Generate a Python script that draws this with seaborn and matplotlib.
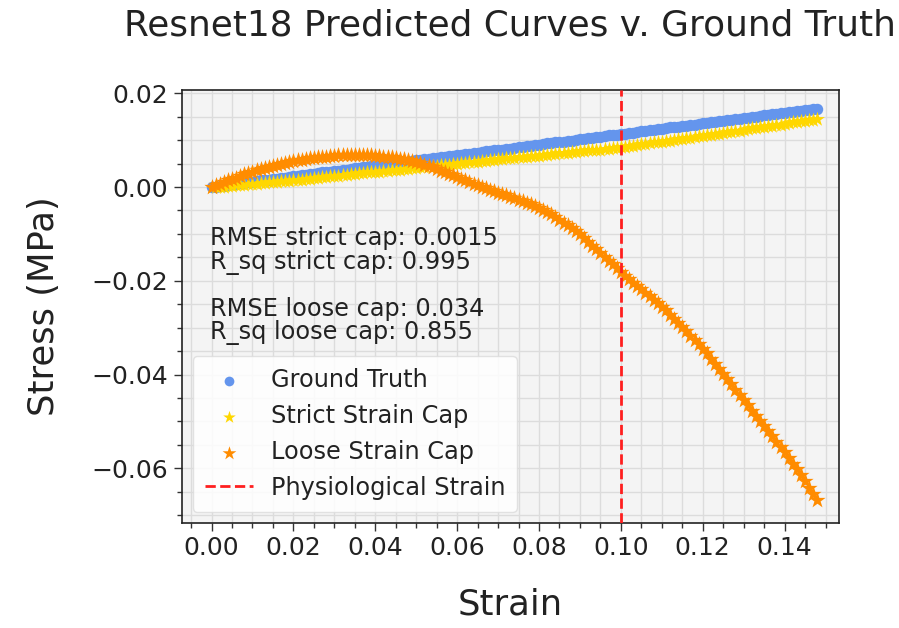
import matplotlib
matplotlib.use("Agg")
import matplotlib.pyplot as plt
import seaborn as sns
import pandas as pd
from matplotlib.ticker import MultipleLocator

# ---- data ----
strain = [0.000, 0.001, 0.002, 0.003, 0.004, 0.005, 0.006, 0.007, 0.008, 0.009,
          0.010, 0.011, 0.012, 0.013, 0.014, 0.015, 0.016, 0.017, 0.018, 0.019,
          0.020, 0.021, 0.022, 0.023, 0.024, 0.025, 0.026, 0.027, 0.028, 0.029,
          0.030, 0.031, 0.032, 0.033, 0.034, 0.035, 0.036, 0.037, 0.038, 0.039,
          0.040, 0.041, 0.042, 0.043, 0.044, 0.045, 0.046, 0.047, 0.048, 0.049,
          0.050, 0.051, 0.052, 0.053, 0.054, 0.055, 0.056, 0.057, 0.058, 0.059,
          0.060, 0.061, 0.062, 0.063, 0.064, 0.065, 0.066, 0.067, 0.068, 0.069,
          0.070, 0.071, 0.072, 0.073, 0.074, 0.075, 0.076, 0.077, 0.078, 0.079,
          0.080, 0.081, 0.082, 0.083, 0.084, 0.085, 0.086, 0.087, 0.088, 0.089,
          0.090, 0.091, 0.092, 0.093, 0.094, 0.095, 0.096, 0.097, 0.098, 0.099,
          0.100, 0.101, 0.102, 0.103, 0.104, 0.105, 0.106, 0.107, 0.108, 0.109,
          0.110, 0.111, 0.112, 0.113, 0.114, 0.115, 0.116, 0.117, 0.118, 0.119,
          0.120, 0.121, 0.122, 0.123, 0.124, 0.125, 0.126, 0.127, 0.128, 0.129,
          0.130, 0.131, 0.132, 0.133, 0.134, 0.135, 0.136, 0.137, 0.138, 0.139,
          0.140, 0.141, 0.142, 0.143, 0.144, 0.145, 0.146, 0.147, 0.148]

ground_truth = [0.0000, 0.0001, 0.0002, 0.0003, 0.0005, 0.0006, 0.0007, 0.0008, 0.0009, 0.0010,
                0.0011, 0.0012, 0.0014, 0.0015, 0.0016, 0.0017, 0.0018, 0.0019, 0.0020, 0.0021,
                0.0023, 0.0024, 0.0025, 0.0026, 0.0027, 0.0028, 0.0029, 0.0031, 0.0032, 0.0033,
                0.0034, 0.0035, 0.0036, 0.0037, 0.0038, 0.0040, 0.0041, 0.0042, 0.0043, 0.0044,
                0.0045, 0.0046, 0.0047, 0.0049, 0.0050, 0.0051, 0.0052, 0.0053, 0.0054, 0.0055,
                0.0057, 0.0058, 0.0059, 0.0060, 0.0061, 0.0062, 0.0063, 0.0064, 0.0066, 0.0067,
                0.0068, 0.0069, 0.0070, 0.0071, 0.0072, 0.0073, 0.0075, 0.0076, 0.0077, 0.0078,
                0.0079, 0.0080, 0.0081, 0.0082, 0.0084, 0.0085, 0.0086, 0.0087, 0.0088, 0.0089,
                0.0090, 0.0092, 0.0093, 0.0094, 0.0095, 0.0096, 0.0097, 0.0098, 0.0099, 0.0101,
                0.0102, 0.0103, 0.0104, 0.0105, 0.0106, 0.0107, 0.0108, 0.0110, 0.0111, 0.0112,
                0.0113, 0.0114, 0.0115, 0.0116, 0.0118, 0.0119, 0.0120, 0.0121, 0.0122, 0.0123,
                0.0124, 0.0125, 0.0127, 0.0128, 0.0129, 0.0130, 0.0131, 0.0132, 0.0133, 0.0134,
                0.0136, 0.0137, 0.0138, 0.0139, 0.0140, 0.0141, 0.0142, 0.0144, 0.0145, 0.0146,
                0.0147, 0.0148, 0.0149, 0.0150, 0.0151, 0.0153, 0.0154, 0.0155, 0.0156, 0.0157,
                0.0158, 0.0159, 0.0160, 0.0162, 0.0163, 0.0164, 0.0165, 0.0166, 0.0167]

strict_cap = [0.0000, 0.0000, 0.0001, 0.0001, 0.0002, 0.0003, 0.0004, 0.0004, 0.0005, 0.0006,
              0.0007, 0.0007, 0.0008, 0.0009, 0.0010, 0.0010, 0.0011, 0.0012, 0.0013, 0.0013,
              0.0014, 0.0015, 0.0016, 0.0017, 0.0018, 0.0019, 0.0020, 0.0021, 0.0022, 0.0023,
              0.0024, 0.0024, 0.0025, 0.0026, 0.0027, 0.0028, 0.0029, 0.0030, 0.0031, 0.0031,
              0.0032, 0.0033, 0.0034, 0.0035, 0.0036, 0.0036, 0.0037, 0.0038, 0.0039, 0.0040,
              0.0041, 0.0042, 0.0043, 0.0044, 0.0045, 0.0045, 0.0046, 0.0047, 0.0048, 0.0049,
              0.0050, 0.0051, 0.0052, 0.0053, 0.0054, 0.0054, 0.0055, 0.0056, 0.0057, 0.0058,
              0.0059, 0.0060, 0.0061, 0.0061, 0.0062, 0.0063, 0.0064, 0.0065, 0.0066, 0.0066,
              0.0067, 0.0068, 0.0069, 0.0070, 0.0071, 0.0072, 0.0073, 0.0073, 0.0074, 0.0075,
              0.0076, 0.0077, 0.0078, 0.0079, 0.0080, 0.0080, 0.0081, 0.0082, 0.0083, 0.0084,
              0.0085, 0.0086, 0.0087, 0.0088, 0.0090, 0.0091, 0.0092, 0.0093, 0.0095, 0.0096,
              0.0097, 0.0098, 0.0099, 0.0100, 0.0102, 0.0103, 0.0104, 0.0105, 0.0107, 0.0108,
              0.0109, 0.0110, 0.0112, 0.0113, 0.0114, 0.0115, 0.0117, 0.0118, 0.0119, 0.0120,
              0.0122, 0.0123, 0.0125, 0.0126, 0.0127, 0.0128, 0.0130, 0.0131, 0.0132, 0.0133,
              0.0135, 0.0136, 0.0138, 0.0139, 0.0140, 0.0141, 0.0143, 0.0144, 0.0146]

loose_cap = [0.0000, 0.0004, 0.0007, 0.0011, 0.0014, 0.0017, 0.0020, 0.0024, 0.0027, 0.0030,
             0.0033, 0.0036, 0.0038, 0.0041, 0.0043, 0.0045, 0.0047, 0.0049, 0.0051, 0.0053,
             0.0055, 0.0057, 0.0058, 0.0060, 0.0061, 0.0062, 0.0063, 0.0064, 0.0065, 0.0066,
             0.0067, 0.0068, 0.0068, 0.0068, 0.0068, 0.0068, 0.0068, 0.0068, 0.0068, 0.0068,
             0.0067, 0.0066, 0.0065, 0.0064, 0.0063, 0.0062, 0.0060, 0.0059, 0.0057, 0.0055,
             0.0053, 0.0051, 0.0048, 0.0045, 0.0042, 0.0039, 0.0035, 0.0032, 0.0028, 0.0025,
             0.0021, 0.0018, 0.0014, 0.0011, 0.0007, 0.0004, 0.0001, -0.0003, -0.0006, -0.0009,
             -0.0012, -0.0015, -0.0018, -0.0021, -0.0024, -0.0027, -0.0030, -0.0033, -0.0036, -0.0040,
             -0.0044, -0.0048, -0.0053, -0.0058, -0.0064, -0.0070, -0.0076, -0.0082, -0.0088, -0.0094,
             -0.0101, -0.0109, -0.0117, -0.0125, -0.0133, -0.0141, -0.0149, -0.0157, -0.0165, -0.0173,
             -0.0181, -0.0189, -0.0196, -0.0204, -0.0211, -0.0218, -0.0225, -0.0233, -0.0240, -0.0248,
             -0.0255, -0.0263, -0.0272, -0.0281, -0.0290, -0.0299, -0.0308, -0.0317, -0.0326, -0.0335,
             -0.0345, -0.0355, -0.0366, -0.0377, -0.0388, -0.0399, -0.0410, -0.0421, -0.0433, -0.0444,
             -0.0455, -0.0466, -0.0477, -0.0488, -0.0499, -0.0510, -0.0521, -0.0532, -0.0543, -0.0554,
             -0.0565, -0.0577, -0.0590, -0.0602, -0.0615, -0.0628, -0.0641, -0.0654, -0.0667]

physiological_strain = 0.10
x_ticks = [0.00, 0.02, 0.04, 0.06, 0.08, 0.10, 0.12, 0.14]
y_ticks = [-0.06, -0.04, -0.02, 0.00, 0.02]
stats_text = ["RMSE strict cap: 0.0015", "R_sq strict cap: 0.995", "",
              "RMSE loose cap: 0.034", "R_sq loose cap: 0.855"]

df = pd.DataFrame({"strain": strain, "gt": ground_truth,
                   "strict": strict_cap, "loose": loose_cap})

# ---- style ----
sns.set_style("whitegrid")
plt.rcParams["font.family"] = ["DejaVu Sans"]

fig = plt.figure(figsize=(8.99, 6.28), dpi=100)
ax = fig.add_axes([0.2021, 0.1677, 0.7312, 0.6890])
ax.set_facecolor("#f4f4f4")

sns.scatterplot(data=df, x="strain", y="gt", ax=ax, color="#6495ED", marker="o",
                s=68, linewidth=0, label="Ground Truth", zorder=3)
sns.scatterplot(data=df, x="strain", y="strict", ax=ax, color="#FFD700", marker="*",
                s=125, linewidth=0, label="Strict Strain Cap", zorder=4)
sns.scatterplot(data=df, x="strain", y="loose", ax=ax, color="#FF8C00", marker="*",
                s=150, linewidth=0, label="Loose Strain Cap", zorder=5)
ax.axvline(physiological_strain, color="#ff1f1f", linestyle="--", linewidth=2,
           label="Physiological Strain", zorder=6)

ax.set_xlim(-0.0073, 0.1533)
ax.set_ylim(-0.0716, 0.0207)
ax.set_xticks(x_ticks)
ax.set_yticks(y_ticks)
ax.set_xticklabels([f"{v:.2f}" for v in x_ticks])
ax.set_yticklabels([f"{v:.2f}".replace("-", "\u2212") for v in y_ticks])
ax.xaxis.set_minor_locator(MultipleLocator(0.005))
ax.yaxis.set_minor_locator(MultipleLocator(0.005))
ax.grid(True, which="major", color="#dcdcdc", linewidth=1.0, zorder=0)
ax.grid(True, which="minor", color="#dcdcdc", linewidth=1.0, zorder=0)
ax.set_axisbelow(True)

ax.tick_params(axis="both", which="major", labelsize=18, length=6, width=1,
               color="#333333", labelcolor="#222222", bottom=True, left=True, direction="out")
ax.tick_params(axis="both", which="minor", length=3.5, width=1,
               color="#333333", bottom=True, left=True, direction="out")
for sp in ax.spines.values():
    sp.set_color("#222222")
    sp.set_linewidth(1.2)

ax.set_xlabel("Strain", fontsize=25.5, labelpad=20, color="#222222")
ax.set_ylabel("Stress (MPa)", fontsize=25.5, labelpad=22, color="#222222")
ax.set_title("Resnet18 Predicted Curves v. Ground Truth", fontsize=25.8, pad=39,
             color="#222222")

ax.text(0.043, 0.685, "\n".join(stats_text), transform=ax.transAxes,
        fontsize=17.3, va="top", ha="left", linespacing=0.96, color="#222222", zorder=7)

leg = ax.legend(loc="lower left", fontsize=17.3, frameon=True, framealpha=0.85,
                borderaxespad=0.45, handletextpad=0.75, labelspacing=0.5,
                borderpad=0.5, handlelength=2.0, markerscale=0.85)
leg.get_frame().set_edgecolor("#dddddd")
for t in leg.get_texts():
    t.set_color("#222222")
leg.set_zorder(10)

fig.savefig("out.png", dpi=100, facecolor="white")
